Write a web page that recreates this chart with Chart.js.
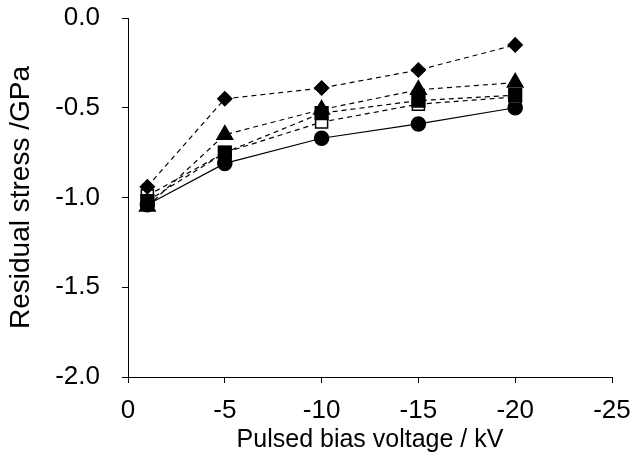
<!DOCTYPE html>
<html>
<head>
<meta charset="utf-8">
<script src="https://cdn.jsdelivr.net/npm/chart.js@4/dist/chart.umd.min.js"></script>
<style>
  html, body { margin: 0; padding: 0; background: #fff; }
  #wrap { width: 634px; height: 459px; }
</style>
</head>
<body>
<div id="wrap"><canvas id="chart"></canvas></div>
<script>
// bias voltage (kV)
var voltages = [-1, -5, -10, -15, -20];
// residual stress (GPa)
var diamondVals  = [-0.94, -0.45, -0.39, -0.29, -0.15];
var triangleVals = [-1.05, -0.65, -0.51, -0.40, -0.36];
var openSqVals   = [-0.99, -0.75, -0.58, -0.48, -0.44];
var fillSqVals   = [-1.02, -0.75, -0.53, -0.46, -0.43];
var circleVals   = [-1.04, -0.81, -0.67, -0.59, -0.50];

var xTicks = [0, -5, -10, -15, -20, -25];
var yTicks = [0, -0.5, -1.0, -1.5, -2.0];

function pts(vals) {
  return voltages.map(function(v, i){ return { x: v, y: vals[i] }; });
}

var tickFont = { family: "'Liberation Sans', Arial, sans-serif", size: 26 };
var xTitleFont = { family: "'Liberation Sans', Arial, sans-serif", size: 25 };
var yTitleFont = { family: "'Liberation Sans', Arial, sans-serif", size: 28 };

function series(vals, style, r, fill, dash, order) {
  return {
    data: pts(vals),
    pointStyle: style,
    pointRadius: r,
    pointHoverRadius: r,
    pointBackgroundColor: fill,
    pointBorderColor: '#000',
    pointBorderWidth: 1.5,
    borderColor: '#000',
    borderWidth: 1.2,
    borderDash: dash,
    showLine: true,
    fill: false,
    order: order
  };
}

new Chart(document.getElementById('chart'), {
  type: 'scatter',
  data: {
    datasets: [
      series(circleVals, 'circle', 7, '#000', [], 5),
      series(openSqVals, 'rect', 8.5, '#fff', [5, 4], 4),
      series(fillSqVals, 'rect', 9, '#000', [5, 4], 3),
      series(triangleVals, 'triangle', 9, '#000', [5, 4], 2),
      series(diamondVals, 'rectRot', 7, '#000', [5, 4], 1)
    ]
  },
  options: {
    responsive: true,
    maintainAspectRatio: false,
    animation: false,
    layout: { padding: { left: 4, right: 22, top: 18, bottom: 0 } },
    plugins: { legend: { display: false }, tooltip: { enabled: false } },
    scales: {
      x: {
        type: 'linear',
        min: -25, max: 0,
        reverse: true,
        afterBuildTicks: function(s){ s.ticks = xTicks.map(function(v){ return { value: v }; }); },
        afterFit: function(s){ s.height = 82; s.paddingLeft = 0; s.paddingRight = 0; },
        ticks: { color: '#000', font: tickFont, padding: 12, maxRotation: 0,
                 callback: function(v){ return String(v); } },
        grid: { drawOnChartArea: false, drawTicks: true, tickLength: 6, color: '#000' },
        border: { color: '#000', width: 1 },
        title: { display: true, text: 'Pulsed bias voltage / kV', color: '#000', font: xTitleFont, padding: { top: 0, bottom: 4 } }
      },
      y: {
        min: -2, max: 0,
        afterBuildTicks: function(s){ s.ticks = yTicks.map(function(v){ return { value: v }; }); },
        afterFit: function(s){ s.width = 124; s.paddingTop = 0; s.paddingBottom = 0; },
        ticks: { color: '#000', font: tickFont, padding: 22,
                 callback: function(v){ return v.toFixed(1); } },
        grid: { drawOnChartArea: false, drawTicks: true, tickLength: 6, color: '#000' },
        border: { color: '#000', width: 1 },
        title: { display: true, text: 'Residual stress /GPa', color: '#000', font: yTitleFont, padding: { top: 0, bottom: 0 } }
      }
    }
  }
});
</script>
</body>
</html>
